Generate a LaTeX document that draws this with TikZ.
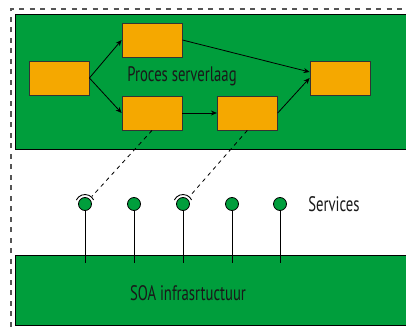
\documentclass[tikz,border=0pt]{standalone}
\usepackage{xcolor}
\usepackage{fontspec}
\usepackage{tikz}
\usetikzlibrary{arrows.meta,positioning,calc}
\newfontfamily\gill[FakeStretch=0.7]{PT Sans}
\definecolor{layergreen}{HTML}{009E3C}
\definecolor{taskfill}{HTML}{F5A800}
\definecolor{framegray}{HTML}{555555}

\begin{document}
\begin{tikzpicture}[x=1pt, y=1pt,
  layer/.style={draw=black, line width=0.8pt, fill=layergreen},
  task/.style={draw=black!80, line width=0.8pt, fill=taskfill, minimum width=60pt, minimum height=34pt, inner sep=0pt},
  service/.style={circle, draw=black, line width=0.8pt, fill=layergreen, minimum size=13pt, inner sep=0pt},
  lbl/.style={font=\gill\fontsize{21}{23}\selectfont, text=black!90, inner sep=0pt},
  arr/.style={-{Stealth[length=6pt, width=5pt]}, line width=0.8pt},
  link/.style={dashed, dash pattern=on 4pt off 4pt, line width=0.8pt}
]
  \clip (0,0) rectangle (406,327);

  % frame and layers
  \draw[framegray, line width=1.3pt, dash pattern=on 5pt off 5.5pt] (11,-10) rectangle (430,318);
  \draw[layer] (15,178) rectangle (430,313);
  \draw[layer] (15,1.5) rectangle (430,72);

  % process tasks
  \node[task] (start) at (59,249) {};
  \node[task] (upper) at (152,287) {};
  \node[task] (lowerA) at (152,214) {};
  \node[task, right=34.5pt of lowerA] (lowerB) {};
  \node[task] (finish) at (340,249) {};
  \node[lbl] (proc) at (182,251) {Proces serverlaag};

  \draw[arr] (start.east) -- (upper.west);
  \draw[arr] (start.east) -- (lowerA.west);
  \draw[arr] (upper.east) -- ([yshift=6pt]finish.west);
  \draw[arr] (lowerA.east) -- (lowerB.west);
  \draw[arr] (lowerB.east) -- (finish.west);

  % services
  \foreach \i/\x in {1/85, 2/134, 3/183, 4/232, 5/280} {
    \coordinate (base\i) at (\x,64);
    \draw[line width=0.8pt] (\x,123) -- (base\i);
    \node[service] (s\i) at (\x,123) {};
  }
  \foreach \i in {1,3}
    \draw[line width=0.9pt] ([shift={(155:9.5pt)}]s\i.center) arc (155:25:9.5pt);
  \node[lbl] (serv) at (334,123) {Services};
  \node[lbl] (soa) at (188,34) {SOA infrasrtuctuur};

  \draw[link, shorten >=3.5pt] (lowerA.south) -- (s1);
  \draw[link, shorten >=3.5pt] (lowerB.south) -- (s3);
\end{tikzpicture}
\end{document}
